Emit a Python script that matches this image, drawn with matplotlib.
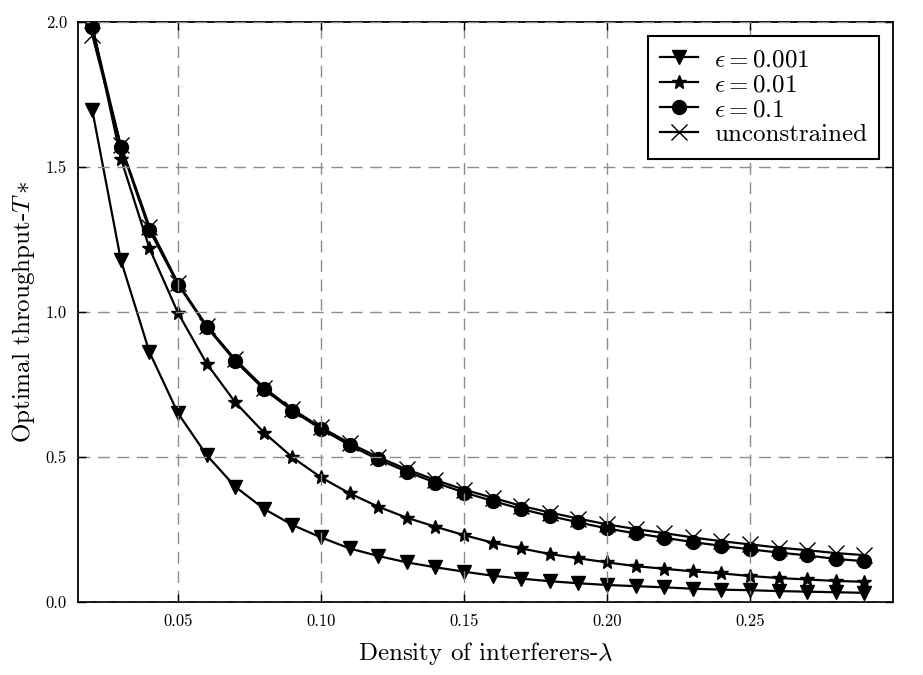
import matplotlib
matplotlib.use('Agg')
import matplotlib.pyplot as plt

plt.rcParams['font.family'] = 'serif'
plt.rcParams['font.serif'] = ['cmr10']
plt.rcParams['mathtext.fontset'] = 'cm'
plt.rcParams['axes.formatter.use_mathtext'] = True

lam = [0.02, 0.03, 0.04, 0.05, 0.06, 0.07, 0.08, 0.09, 0.10, 0.11,
       0.12, 0.13, 0.14, 0.15, 0.16, 0.17, 0.18, 0.19, 0.20, 0.21,
       0.22, 0.23, 0.24, 0.25, 0.26, 0.27, 0.28, 0.29]

eps_001 = [1.697, 1.179, 0.862, 0.651, 0.507, 0.398, 0.322, 0.266, 0.223, 0.185,
           0.159, 0.137, 0.120, 0.105, 0.091, 0.081, 0.072, 0.065, 0.059, 0.055,
           0.051, 0.046, 0.043, 0.041, 0.038, 0.036, 0.034, 0.032]

eps_01 = [1.99, 1.530, 1.220, 0.997, 0.823, 0.689, 0.585, 0.499, 0.430, 0.375,
          0.329, 0.291, 0.260, 0.231, 0.205, 0.185, 0.166, 0.151, 0.137, 0.124,
          0.115, 0.106, 0.099, 0.090, 0.083, 0.078, 0.073, 0.070]

eps_1 = [1.984, 1.570, 1.283, 1.095, 0.949, 0.831, 0.734, 0.660, 0.597, 0.541,
         0.492, 0.450, 0.412, 0.378, 0.349, 0.321, 0.297, 0.275, 0.254, 0.237,
         0.222, 0.207, 0.194, 0.182, 0.171, 0.161, 0.149, 0.141]

unconstrained = [1.955, 1.575, 1.295, 1.100, 0.953, 0.837, 0.740, 0.665, 0.603, 0.548,
                 0.500, 0.458, 0.421, 0.388, 0.360, 0.332, 0.309, 0.288, 0.268, 0.252,
                 0.238, 0.223, 0.210, 0.199, 0.188, 0.179, 0.169, 0.162]

xticks = [0.05, 0.10, 0.15, 0.20, 0.25]
yticks = [0.0, 0.5, 1.0, 1.5, 2.0]

fig = plt.figure(figsize=(9.23, 6.75), dpi=100)
ax = fig.add_axes([0.0845, 0.108, 0.883, 0.859])

ax.plot(lam, eps_001, 'k-', marker='v', markersize=10, lw=1.6, label=r'$\epsilon = 0.001$')
ax.plot(lam, eps_01, 'k-', marker='*', markersize=10, lw=1.6, label=r'$\epsilon = 0.01$')
ax.plot(lam, eps_1, 'k-', marker='o', markersize=10, lw=1.6, label=r'$\epsilon = 0.1$')
ax.plot(lam, unconstrained, 'k-', marker='x', markersize=11, mew=1, lw=1.6, label='unconstrained')

ax.set_xlim(0.015, 0.30)
ax.set_ylim(0, 2.0)
ax.set_xticks(xticks)
ax.set_yticks(yticks)
ax.set_xticklabels(['%.2f' % t for t in xticks])
ax.set_yticklabels(['%.1f' % t for t in yticks])
ax.tick_params(direction='in', top=True, right=True, length=6, width=1, labelsize=12, pad=8)

ax.set_axisbelow(False)
ax.grid(True, color='#8c8c8c', linestyle=(0, (8.5, 5.5)), linewidth=1)
for s in ax.spines.values():
    s.set_linewidth(1.3)

ax.set_xlabel(r'Density of interferers-$\lambda$', fontsize=18, labelpad=8)
ax.set_ylabel(r'Optimal throughput-$T*$', fontsize=18, labelpad=6)

leg = ax.legend(loc='upper right', fontsize=18, fancybox=False, framealpha=1,
                handlelength=1.5, borderpad=0.5, labelspacing=0.1, handletextpad=0.65,
                borderaxespad=0.55)
leg.get_frame().set_edgecolor('black')
leg.get_frame().set_linewidth(1.5)

fig.savefig('out.png', dpi=100)
